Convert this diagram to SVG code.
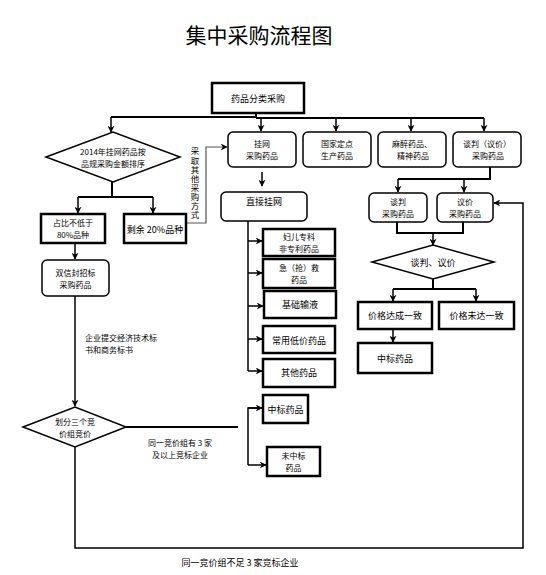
<svg xmlns="http://www.w3.org/2000/svg" width="546" height="575" viewBox="0 0 546 575">
<defs>
<marker id="ar" viewBox="0 0 10 10" refX="9" refY="5" markerWidth="7" markerHeight="7" markerUnits="userSpaceOnUse" orient="auto">
<path d="M0,0 L10,5 L0,10 L3,5 z" fill="#000"/>
</marker>
<style>
text{font-family:"Noto Sans CJK SC","Liberation Sans",sans-serif;font-size:9px;fill:#000;text-anchor:middle;dominant-baseline:central}
.t2{font-size:8px}
.thick{fill:#fff;stroke:#000;stroke-width:2.5}
.rnd{fill:#fff;stroke:#000;stroke-width:1.5}
.dia{fill:#fff;stroke:#000;stroke-width:1.5}
.c{fill:none;stroke:#000;stroke-width:1.5}
.c2{fill:none;stroke:#000;stroke-width:2}
.ca{fill:none;stroke:#000;stroke-width:1.5;marker-end:url(#ar)}
.title{font-size:21px}
.lt{text-anchor:start}
.vt{writing-mode:vertical-rl;text-anchor:start;dominant-baseline:central;font-size:8.5px;letter-spacing:0.6px}
</style>
</defs>
<rect width="546" height="575" fill="#fff"/>
<text class="title" x="259" y="34">集中采购流程图</text>

<g id="connectors">
<path class="c2" d="M256,113 V118"/>
<path class="c2" d="M256,117 H111"/>
<path class="ca" d="M111,117 V132"/>
<path class="c2" d="M256,118 H484"/>
<path class="ca" d="M261,118 V131"/>
<path class="ca" d="M336,118 V131"/>
<path class="ca" d="M411,118 V131"/>
<path class="ca" d="M484,118 V131"/>
<path class="c2" d="M112,182 V197"/>
<path class="c2" d="M78,197 H153"/>
<path class="ca" d="M78,197 V213"/>
<path class="ca" d="M153,197 V213"/>
<path fill="none" stroke="#555" stroke-width="1.2" marker-end="url(#ar)" d="M186,223 H206 V147 H227"/>
<path class="ca" d="M75,243 V259"/>
<path class="ca" d="M75,296 V406"/>
<path class="c2" d="M126,427 H238"/>
<path class="c" d="M262,408 H248 V465"/>
<path class="ca" d="M248,408 H262"/>
<path class="ca" d="M248,465 H266"/>
<path class="ca" d="M75,447 V548 H523 V203 H494"/>
<path class="ca" d="M262,172 V186"/>
<path class="c" d="M248,221 V371"/>
<path class="ca" d="M248,241 H262"/>
<path class="ca" d="M248,273 H262"/>
<path class="ca" d="M248,306 H263"/>
<path class="ca" d="M248,339 H262"/>
<path class="ca" d="M248,371 H262"/>
<path class="c2" d="M490,167 V179 H398"/>
<path class="ca" d="M398,179 V192"/>
<path class="ca" d="M464,179 V192"/>
<path class="c2" d="M397,222 V233 H463 V222"/>
<path class="ca" d="M433,233 V245"/>
<path class="c2" d="M433,279 V289"/>
<path class="c2" d="M393,289 H476"/>
<path class="ca" d="M393,289 V301"/>
<path class="ca" d="M476,289 V301"/>
<path class="ca" d="M393,329 V342"/>
</g>

<g id="n-top"><rect class="thick" x="212" y="83" width="92" height="30"/><text x="258" y="98">药品分类采购</text></g>

<g id="n-gw"><rect class="rnd" x="228" y="132" width="68" height="35" rx="5"/><text class="t2" x="262" y="143.5">挂网<tspan x="262" dy="11.8">采购药品</tspan></text></g>
<g id="n-gj"><rect class="rnd" x="303" y="132" width="68" height="35" rx="5"/><text class="t2" x="337" y="143.5">国家定点<tspan x="337" dy="11.8">生产药品</tspan></text></g>
<g id="n-mz"><rect class="rnd" x="378" y="132" width="68" height="35" rx="5"/><text class="t2" x="412" y="143.5">麻醉药品、<tspan x="413" dy="11.8">精神药品</tspan></text></g>
<g id="n-tp"><rect class="rnd" x="453" y="132" width="68" height="35" rx="5"/><text class="t2" x="487" y="143.5">谈判（议价）<tspan x="488" dy="11.8">采购药品</tspan></text></g>

<g id="n-d1"><polygon class="dia" points="46,157 113,132 180,157 113,182"/><text class="t2" x="113" y="151">2014年挂网药品按<tspan x="113" dy="12">品规采购金额排序</tspan></text></g>

<g id="n-80"><rect class="thick" x="41" y="214" width="64" height="29"/><text class="t2" x="73" y="222.6">占比不低于<tspan x="73" dy="11.8">80%品种</tspan></text></g>
<g id="n-20"><rect class="thick" x="124" y="214" width="62" height="29"/><text x="155" y="229">剩余 20%品种</text></g>

<g id="l-other"><text class="vt" x="195" y="147">采取其他采购方式</text></g>

<g id="n-sxf"><rect class="rnd" x="42" y="260" width="67" height="36" rx="5"/><text class="t2" x="75.5" y="272.2">双信封招标<tspan x="75.5" dy="11.8">采购药品</tspan></text></g>

<g id="l-qy"><text class="t2 lt" x="85" y="337">企业提交经济技术标<tspan x="85" dy="12">书和商务标书</tspan></text></g>

<g id="n-d2"><polygon class="dia" points="23,427 75,407 126,427 75,447"/><text class="t2" x="75" y="421.2">划分三个竞<tspan x="75" dy="11.8">价组竞价</tspan></text></g>

<g id="l-3up"><text class="t2" x="180" y="442">同一竞价组有 3 家<tspan x="180" dy="11.8">及以上竞标企业</tspan></text></g>

<g id="n-zb1"><rect class="thick" x="263" y="395" width="45" height="28"/><text x="285.5" y="409">中标药品</text></g>
<g id="n-wzb"><rect class="thick" x="267" y="447" width="53" height="29"/><text class="t2" x="293.5" y="455.6">未中标<tspan x="293.5" dy="11.8">药品</tspan></text></g>

<g id="l-3down"><text x="240" y="562">同一竞价组不足 3 家竞标企业</text></g>

<g id="n-zjgw"><rect class="rnd" x="221" y="192" width="86" height="29" rx="5"/><text x="264" y="201">直接挂网</text></g>

<g id="n-fe"><rect class="thick" x="263" y="229" width="72" height="27"/><text class="t2" x="299" y="236.6">妇儿专科<tspan x="299" dy="11.8">非专利药品</tspan></text></g>
<g id="n-jj"><rect class="thick" x="263" y="259" width="72" height="29"/><text class="t2" x="299" y="267.6">急（抢）救<tspan x="299" dy="11.8">药品</tspan></text></g>
<g id="n-jc"><rect class="thick" x="264" y="291" width="72" height="27"/><text x="300" y="304">基础输液</text></g>
<g id="n-cy"><rect class="thick" x="263" y="326" width="72" height="27"/><text x="299" y="340">常用低价药品</text></g>
<g id="n-qt"><rect class="thick" x="263" y="359" width="72" height="28"/><text x="299" y="372">其他药品</text></g>

<g id="n-tan"><rect class="rnd" x="369" y="193" width="58" height="29" rx="5"/><text class="t2" x="398" y="201.6">谈判<tspan x="398" dy="11.8">采购药品</tspan></text></g>
<g id="n-yi"><rect class="rnd" x="437" y="193" width="56" height="29" rx="5"/><text class="t2" x="465" y="201.6">议价<tspan x="465" dy="11.8">采购药品</tspan></text></g>

<g id="n-d3"><polygon class="dia" points="372,262 433,245 494,262 433,279"/><text x="433" y="262">谈判、议价</text></g>

<g id="n-yz"><rect class="thick" x="358" y="302" width="74" height="27"/><text x="395" y="315.5">价格达成一致</text></g>
<g id="n-wd"><rect class="thick" x="439" y="302" width="75" height="27"/><text x="476.5" y="315.5">价格未达一致</text></g>
<g id="n-zb2"><rect class="thick" x="358" y="343" width="74" height="30"/><text x="395" y="358">中标药品</text></g>
</svg>
